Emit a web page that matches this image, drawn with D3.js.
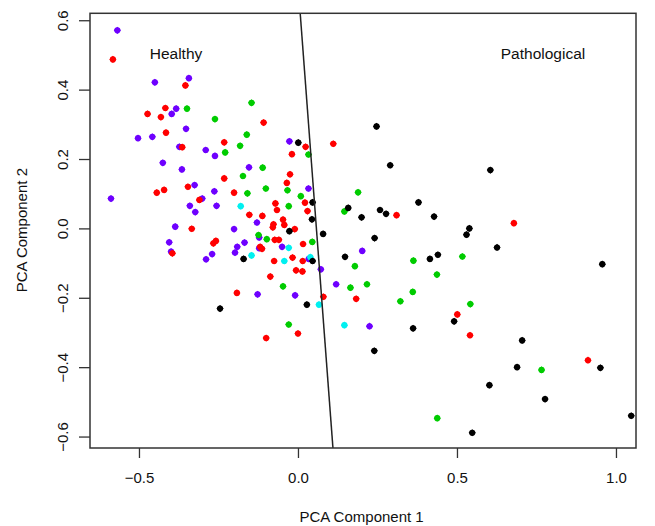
<!DOCTYPE html>
<html>
<head>
<meta charset="utf-8">
<script src="https://cdn.jsdelivr.net/npm/d3@7"></script>
<style>
  body { margin: 0; background: #fff; }
  svg text { font-family: "Liberation Sans", Arial, Helvetica, sans-serif; fill: #111; }
</style>
</head>
<body>
<svg id="chart" width="655" height="526"></svg>
<script>
// point groups (PCA comp 1, PCA comp 2)
const purpleX = [-0.568,-0.450,-0.343,-0.383,-0.397,-0.352,-0.503,-0.458,-0.373,-0.290,-0.261,-0.425,-0.365,-0.154,-0.588,-0.325,-0.263,-0.301,-0.340,-0.256,-0.323,-0.129,-0.386,-0.201,-0.122,-0.405,-0.168,-0.191,-0.122,-0.399,-0.270,-0.198,-0.289,-0.127,-0.027,0.033,-0.050,0.202,0.034,0.072,0.120,-0.009,0.225];
const purpleY = [0.571,0.421,0.433,0.345,0.330,0.287,0.260,0.264,0.235,0.226,0.209,0.189,0.170,0.176,0.086,0.125,0.107,0.086,0.065,0.065,0.047,0.017,0.005,-0.002,-0.026,-0.040,-0.041,-0.053,-0.057,-0.067,-0.074,-0.070,-0.089,-0.190,0.251,0.115,-0.053,-0.065,-0.088,-0.118,-0.161,-0.193,-0.282];

const redX = [-0.582,-0.354,-0.417,-0.473,-0.431,-0.108,-0.415,-0.232,-0.364,0.024,0.111,-0.019,-0.232,-0.444,-0.421,-0.346,-0.201,-0.310,-0.153,-0.112,-0.334,-0.258,-0.266,-0.119,-0.113,-0.395,-0.087,-0.192,-0.100,-0.025,-0.035,-0.071,0.022,-0.066,0.030,0.310,-0.047,-0.077,-0.043,-0.079,-0.010,-0.073,-0.060,0.016,-0.017,-0.075,0.015,-0.006,0.014,0.080,0.183,0.000,0.679,0.501,0.541,0.912];
const redY = [0.487,0.412,0.347,0.330,0.321,0.305,0.276,0.248,0.234,0.235,0.244,0.214,0.144,0.103,0.111,0.120,0.103,0.082,0.039,0.036,-0.001,-0.036,-0.043,-0.053,-0.059,-0.072,-0.139,-0.186,-0.316,0.156,0.131,0.072,0.074,0.053,0.050,0.038,0.025,0.012,0.010,0.003,-0.002,-0.033,-0.033,-0.045,-0.084,-0.094,-0.094,-0.121,-0.124,-0.197,-0.203,-0.303,0.015,-0.248,-0.308,-0.380];

const greenX = [-0.349,-0.146,-0.261,-0.161,-0.182,-0.229,0.033,-0.111,-0.173,-0.159,-0.101,-0.033,0.189,0.009,-0.029,0.146,-0.124,-0.098,0.045,0.363,0.179,0.437,0.217,0.165,-0.047,0.361,0.322,-0.029,0.438,0.517,0.542,0.766];
const greenY = [0.345,0.362,0.315,0.270,0.238,0.219,0.213,0.175,0.151,0.101,0.115,0.110,0.104,0.093,0.064,0.049,-0.019,-0.031,-0.039,-0.093,-0.109,-0.133,-0.161,-0.171,-0.167,-0.183,-0.210,-0.277,-0.547,-0.081,-0.218,-0.408];

const cyanX = [-0.180,-0.146,-0.029,-0.043,0.039,0.066,0.146];
const cyanY = [0.064,-0.078,-0.056,-0.094,-0.083,-0.220,-0.279];

const blackX = [0.247,0.001,0.290,0.605,0.046,0.379,0.158,0.258,0.277,0.200,0.428,0.044,0.539,0.530,-0.027,0.079,0.241,0.626,0.440,0.415,0.148,0.046,-0.171,0.957,0.028,-0.245,0.362,0.240,0.491,0.705,0.689,0.951,0.602,0.777,1.048,0.548];
const blackY = [0.294,0.247,0.182,0.168,0.075,0.075,0.059,0.053,0.042,0.032,0.034,0.026,0.000,-0.018,-0.008,-0.016,-0.028,-0.055,-0.076,-0.088,-0.082,-0.094,-0.088,-0.103,-0.220,-0.231,-0.288,-0.353,-0.268,-0.323,-0.400,-0.402,-0.452,-0.492,-0.540,-0.589];

// separating line, two points in data units
const dividerX = [0.007, 0.110];
const dividerY = [0.620, -0.633];

const xTicks = [-0.5, 0.0, 0.5, 1.0];
const yTicks = [-0.6, -0.4, -0.2, 0.0, 0.2, 0.4, 0.6];

const groups = [
    {xs: purpleX, ys: purpleY, color: "#6e00ff"},
    {xs: redX, ys: redY, color: "#ff0000"},
    {xs: greenX, ys: greenY, color: "#00cc00"},
    {xs: cyanX, ys: cyanY, color: "#00f0f0"},
    {xs: blackX, ys: blackY, color: "#000000"}
];

let svg = d3.select("#chart");
let margin = {left: 90, right: 19, top: 13.3, bottom: 78};
let W = 655, H = 526;

let x = d3.scaleLinear().domain([-0.654, 1.063]).range([margin.left, W - margin.right]);
let y = d3.scaleLinear().domain([-0.633, 0.620]).range([H - margin.bottom, margin.top]);

svg.append("clipPath").attr("id", "plotclip")
    .append("rect")
    .attr("x", margin.left).attr("y", margin.top)
    .attr("width", W - margin.left - margin.right)
    .attr("height", H - margin.top - margin.bottom);

//PONTOS
groups.forEach(function (g) {
    let pts = g.xs.map((v, i) => [v, g.ys[i]]);
    let grp = svg.append("g");
    grp.selectAll("path")
        .data(pts)
        .join("path")
        .attr("d", d3.symbol().type(d3.symbolSquare).size(26))
        .attr("transform", d => "translate(" + x(d[0]) + "," + y(d[1]) + ") rotate(45)")
        .attr("fill", g.color);
    // soft round core, the reference marks look blurred
    grp.selectAll("circle")
        .data(pts)
        .join("circle")
        .attr("cx", d => x(d[0])).attr("cy", d => y(d[1]))
        .attr("r", 3.1)
        .attr("fill", g.color);
});

//LINHA DIVISORIA
svg.append("line")
    .attr("clip-path", "url(#plotclip)")
    .attr("x1", x(dividerX[0])).attr("y1", y(dividerY[0]))
    .attr("x2", x(dividerX[1])).attr("y2", y(dividerY[1]))
    .attr("stroke", "#222").attr("stroke-width", 1.5);

//CAIXA
svg.append("rect")
    .attr("x", margin.left).attr("y", margin.top)
    .attr("width", W - margin.left - margin.right)
    .attr("height", H - margin.top - margin.bottom)
    .attr("fill", "none").attr("stroke", "#333").attr("stroke-width", 1.5);

//EIXOS
let xAxis = svg.append("g")
    .attr("transform", "translate(0," + (H - margin.bottom) + ")")
    .call(d3.axisBottom(x).tickValues(xTicks).tickFormat(d3.format(".1f")).tickSize(10).tickSizeOuter(0).tickPadding(14));
let yAxis = svg.append("g")
    .attr("transform", "translate(" + margin.left + ",0)")
    .call(d3.axisLeft(y).tickValues(yTicks).tickFormat(d3.format(".1f")).tickSize(11).tickSizeOuter(0));

[xAxis, yAxis].forEach(function (a) {
    a.select(".domain").remove();
    a.selectAll(".tick line").attr("stroke", "#333").attr("stroke-width", 1.3);
    a.selectAll("text").attr("font-size", "15px").attr("fill", "#111")
        .attr("font-family", "'Liberation Sans', Arial, sans-serif");
});

// y labels parallel to the axis, like R
yAxis.selectAll(".tick text")
    .attr("x", null).attr("dy", null)
    .attr("text-anchor", "middle")
    .attr("transform", "translate(-28,0) rotate(-90)")
    .attr("dominant-baseline", "central");

//TITULOS
svg.append("text")
    .attr("x", x(0.2)).attr("y", 522)
    .attr("text-anchor", "middle").attr("font-size", "15px")
    .text("PCA Component 1");
svg.append("text")
    .attr("transform", "translate(27," + y(-0.005) + ") rotate(-90)")
    .attr("text-anchor", "middle").attr("font-size", "15px")
    .text("PCA Component 2");

svg.append("text")
    .attr("x", 176).attr("y", 59)
    .attr("text-anchor", "middle").attr("font-size", "15.5px").attr("fill", "#222")
    .text("Healthy");
svg.append("text")
    .attr("x", 543).attr("y", 59)
    .attr("text-anchor", "middle").attr("font-size", "15.5px").attr("fill", "#222")
    .text("Pathological");
</script>
</body>
</html>
